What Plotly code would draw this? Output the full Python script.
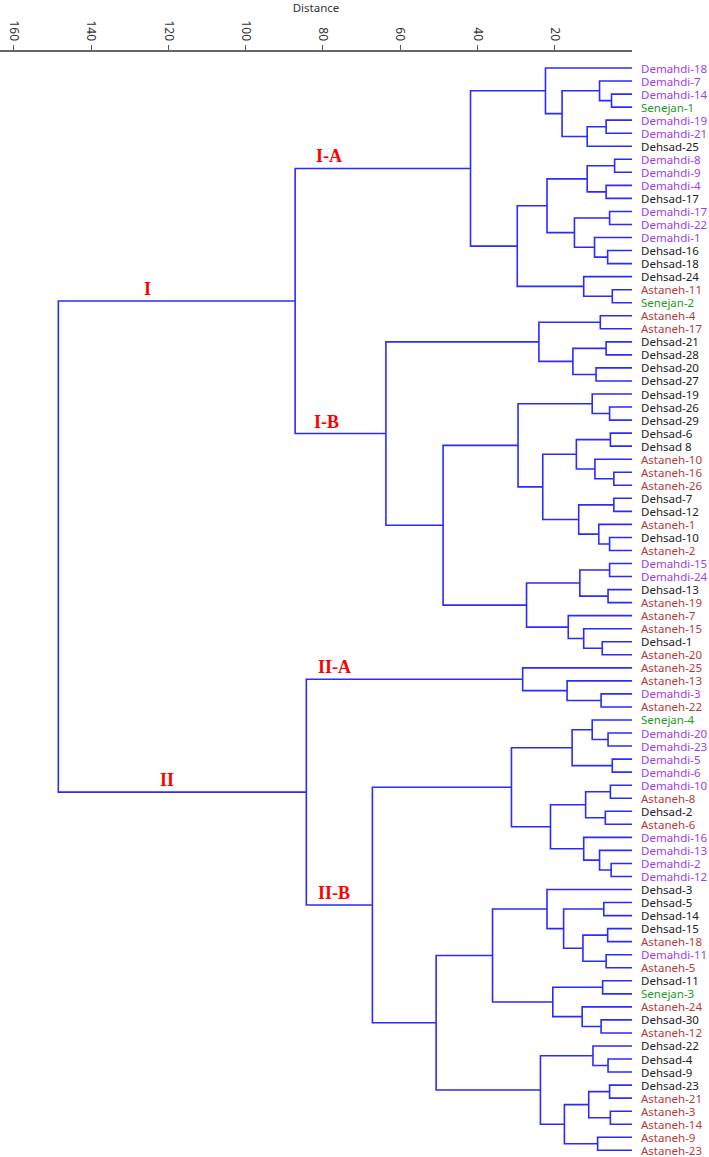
import plotly.graph_objects as go

# dendrogram: each internal node is (merge distance, upper child, lower child)
cluster_IA = (41.8,
    (22.4, "Demahdi-18",
        (18.1, (8.4, "Demahdi-7", (5.3, "Demahdi-14", "Senejan-1")),
               (11.6, (6.7, "Demahdi-19", "Demahdi-21"), "Dehsad-25"))),
    (29.7,
        (22.0, (11.6, (4.5, "Demahdi-8", "Demahdi-9"), (6.7, "Demahdi-4", "Dehsad-17")),
               (14.9, (5.8, "Demahdi-17", "Demahdi-22"),
                      (9.7, "Demahdi-1", (6.3, "Dehsad-16", "Dehsad-18")))),
        (12.5, "Dehsad-24", (5.1, "Astaneh-11", "Senejan-2"))))

cluster_IB = (63.7,
    (24.1, (8.2, "Astaneh-4", "Astaneh-17"),
           (15.3, (6.7, "Dehsad-21", "Dehsad-28"), (9.3, "Dehsad-20", "Dehsad-27"))),
    (48.9,
        (29.5, (10.3, "Dehsad-19", (5.8, "Dehsad-26", "Dehsad-29")),
               (23.1, (14.4, (5.6, "Dehsad-6", "Dehsad 8"),
                             (9.6, "Astaneh-10", (4.7, "Astaneh-16", "Astaneh-26"))),
                      (13.8, (4.7, "Dehsad-7", "Dehsad-12"),
                             (8.6, "Astaneh-1", (5.8, "Dehsad-10", "Astaneh-2"))))),
        (27.3, (13.5, (5.8, "Demahdi-15", "Demahdi-24"), (6.2, "Dehsad-13", "Astaneh-19")),
               (16.5, "Astaneh-7", (12.5, "Astaneh-15", (7.7, "Dehsad-1", "Astaneh-20"))))))

cluster_IIA = (28.3, "Astaneh-25", (16.8, "Astaneh-13", (8.0, "Demahdi-3", "Astaneh-22")))

cluster_IIB = (67.2,
    (31.2,
        (15.5, (10.3, "Senejan-4", (6.2, "Demahdi-20", "Demahdi-23")),
               (5.1, "Demahdi-5", "Demahdi-6")),
        (21.1, (12.0, (5.6, "Demahdi-10", "Astaneh-8"), (6.9, "Dehsad-2", "Astaneh-6")),
               (12.5, "Demahdi-16", (8.4, "Demahdi-13", (5.4, "Demahdi-2", "Demahdi-12"))))),
    (50.7,
        (36.1,
            (22.0, "Dehsad-3",
                (17.7, (7.3, "Dehsad-5", "Dehsad-14"),
                       (12.7, (6.3, "Dehsad-15", "Astaneh-18"), (6.7, "Demahdi-11", "Astaneh-5")))),
            (20.5, (7.6, "Dehsad-11", "Senejan-3"),
                   (12.9, "Astaneh-24", (8.0, "Dehsad-30", "Astaneh-12")))),
        (23.7, (10.1, "Dehsad-22", (6.2, "Dehsad-4", "Dehsad-9")),
               (17.5, (11.2, (5.8, "Dehsad-23", "Astaneh-21"), (5.6, "Astaneh-3", "Astaneh-14")),
                      (8.9, "Astaneh-9", "Astaneh-23")))))

cluster_I = (87.2, cluster_IA, cluster_IB)
cluster_II = (84.3, cluster_IIA, cluster_IIB)
root = (148.5, cluster_I, cluster_II)

tick_vals = [160, 140, 120, 100, 80, 60, 40, 20]

group_colors = {"Demahdi": "#9b3cf0", "Senejan": "#1e9a1e",
                "Dehsad": "#222222", "Astaneh": "#b83a3a"}

leaves = []
seg_x, seg_y = [], []
node_pos = {}


def walk(node):
    if isinstance(node, str):
        leaves.append(node)
        return 0.0, len(leaves) - 1
    h, a, b = node
    ha, ya = walk(a)
    hb, yb = walk(b)
    seg_x.extend([ha, h, h, hb, None])
    seg_y.extend([ya, ya, yb, yb, None])
    y = (ya + yb) / 2
    node_pos[id(node)] = (h, y)
    return h, y


walk(root)

fig = go.Figure()
fig.add_trace(go.Scatter(x=seg_x, y=seg_y, mode="lines",
                         line=dict(color="#2b2bff", width=1.6),
                         hoverinfo="skip", showlegend=False))

for i, name in enumerate(leaves):
    grp = name.split("-")[0].split(" ")[0]
    fig.add_annotation(x=0, y=i, text=name, showarrow=False, xanchor="left",
                       xshift=7, font=dict(family="Noto Sans", size=11.5,
                                           color=group_colors[grp]))

# cluster names, placed just above the branch that leads into each cluster
cluster_labels = [("I", cluster_I, 125.3), ("II", cluster_II, 120.4),
                  ("I-A", cluster_IA, 78.4), ("I-B", cluster_IB, 79.0),
                  ("II-A", cluster_IIA, 77.0), ("II-B", cluster_IIB, 77.1)]
for txt, node, xd in cluster_labels:
    _, ny = node_pos[id(node)]
    fig.add_annotation(x=xd, y=ny, text="<b>%s</b>" % txt, showarrow=False,
                       yanchor="bottom", yshift=0,
                       font=dict(family="Liberation Serif", size=18,
                                 color="#ff0000"))

fig.update_layout(
    width=709, height=1157,
    margin=dict(l=0, r=77, t=52, b=2),
    plot_bgcolor="white", paper_bgcolor="white",
    showlegend=False,
    xaxis=dict(range=[163.6, 0], side="top", tickvals=tick_vals,
               tickangle=90, ticks="outside", ticklen=5, tickwidth=1.2,
               tickcolor="#555555", showline=True, linecolor="#666666",
               linewidth=1.5, showgrid=False, zeroline=False,
               tickfont=dict(family="Noto Sans", size=12, color="#333333"),
               title=dict(text="Distance", standoff=6,
                          font=dict(family="Noto Sans", size=11.5, color="#333333"))),
    yaxis=dict(range=[83.36, -1.227], visible=False, showgrid=False,
               zeroline=False),
)

fig.write_html("out.html", config={"displayModeBar": False},
               post_script="document.body.style.margin='0';"
                           "document.body.style.overflow='hidden';")
